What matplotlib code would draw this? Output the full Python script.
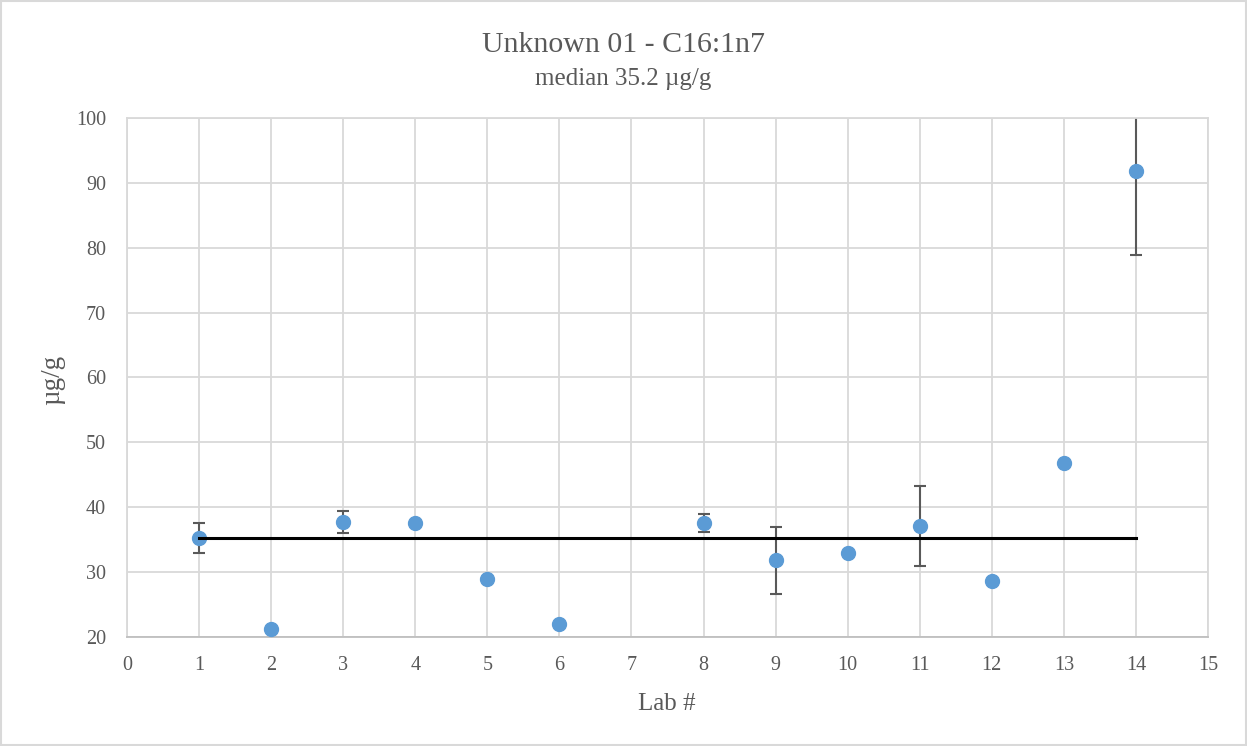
import numpy as np
import matplotlib.pyplot as plt

plt.rcParams['font.family'] = ['Liberation Serif', 'DejaVu Serif']

# données
labs = [1, 2, 3, 4, 5, 6, 8, 9, 10, 11, 12, 13, 14]
valeurs = [35.2, 21.3, 37.7, 37.6, 28.9, 22.0, 37.6, 31.8, 32.9, 37.1, 28.7, 46.8, 91.9]
# incertitudes (None = pas de barre d'erreur)
incert = [2.3, None, 1.7, None, None, None, 1.4, 5.1, None, 6.1, None, None, 13.0]
mediane = 35.2
x_ticks = list(range(0, 16))
y_ticks = list(range(20, 101, 10))

gris_txt = '#595959'
W, H = 1247, 746

fig = plt.figure(figsize=(W / 100, H / 100), dpi=100)
ax = fig.add_axes([127 / W, 1 - 637 / H, (1208 - 127) / W, (637 - 118) / H])

# barres d'erreur seulement pour les labos qui en ont
x_err = [x for x, e in zip(labs, incert) if e is not None]
y_err = [y for y, e in zip(valeurs, incert) if e is not None]
e_err = [e for e in incert if e is not None]
ax.errorbar(x_err, y_err, yerr=e_err, fmt='none', ecolor='#595959',
            elinewidth=1.5, capsize=4.5, capthick=1.5, zorder=2)

ax.plot(labs, valeurs, 'o', color='#5B9BD5', markersize=10, zorder=3)

# ligne de la médiane
ax.plot([labs[0], labs[-1]], [mediane, mediane], color='black', linewidth=2.2, zorder=4)

ax.set_xlim(0, 15)
ax.set_ylim(20, 100)
ax.set_xticks(x_ticks)
ax.set_yticks(y_ticks)
ax.grid(True, color='#D9D9D9', linewidth=1.3)
ax.set_axisbelow(True)
ax.tick_params(length=0, labelsize=14.5, labelcolor=gris_txt)
ax.tick_params(axis='x', pad=13.5)
ax.tick_params(axis='y', pad=15)
for s in ax.spines.values():
    s.set_color('#D9D9D9')
    s.set_linewidth(1.3)
ax.spines['bottom'].set_color('#BFBFBF')

# titres des axes
fig.text(667 / W, 1 - 710 / H, 'Lab #', ha='center', va='baseline',
         fontsize=18, color=gris_txt)
fig.text(53 / W, 1 - 380 / H, 'µg/g', ha='center', va='center', rotation=90,
         fontsize=19.5, color=gris_txt)

fig.text(0.5, 1 - 52 / H, 'Unknown 01 - C16:1n7', ha='center', va='baseline',
         fontsize=21.5, color=gris_txt)
fig.text(0.5, 1 - 85 / H, 'median 35.2 µg/g', ha='center', va='baseline',
         fontsize=18, color=gris_txt)

# cadre autour de la figure
fig.patches.append(plt.Rectangle((0.001, 0.001), 0.998, 0.997, transform=fig.transFigure,
                                 fill=False, edgecolor='#D9D9D9', linewidth=1.5))

fig.savefig('out.png', dpi=100)
